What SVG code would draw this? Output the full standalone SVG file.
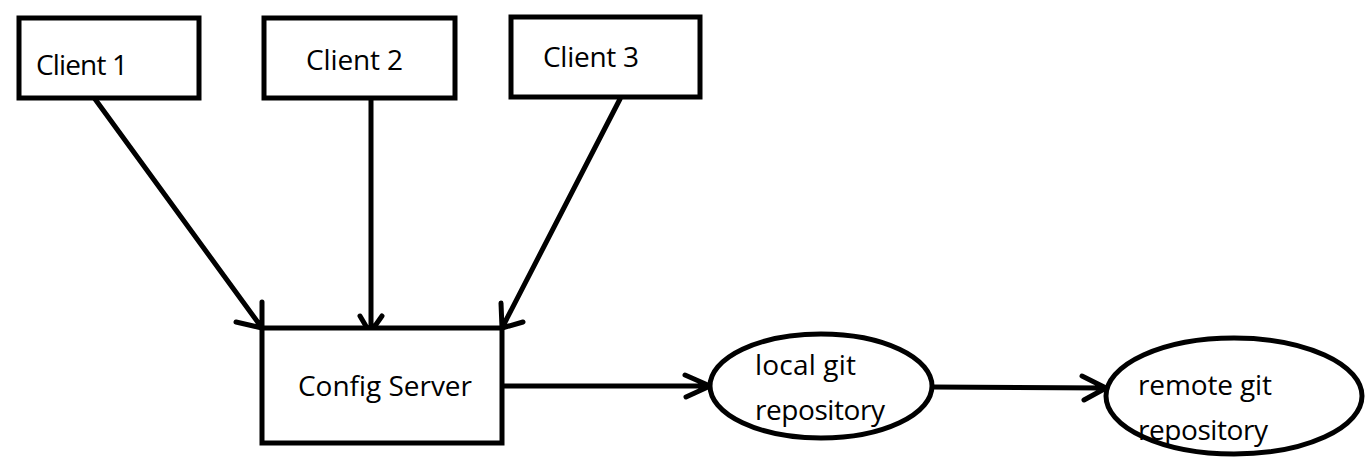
<svg xmlns="http://www.w3.org/2000/svg" width="1370" height="470" viewBox="0 0 1370 470">
<style>
.box{fill:#fff;stroke:#000;stroke-width:5}
.ell{fill:#fff;stroke:#000;stroke-width:5}
.ln{fill:none;stroke:#000;stroke-width:5;stroke-linecap:round;stroke-linejoin:round}
.t{font-family:"Open Sans","Noto Sans",sans-serif;font-size:28px;fill:#000}
</style>
<rect width="1370" height="470" fill="#fff"/>
<g id="connectors">
<path class="ln" d="M95,99 L262,328 M236,322 L262,328 L262,302"/>
<path class="ln" d="M371,99 L371,333 M360,316 L370,333 L382,316"/>
<path class="ln" d="M620,99 L502,328 M501,303 L502,328 L523,322"/>
<path class="ln" d="M504,386 L710,386 M685,375 L710,386 L686,397"/>
<path class="ln" d="M932,387 L1106,388 M1082,376 L1106,388 L1084,400"/>
</g>
<g id="client1"><rect class="box" x="19" y="18" width="180" height="80"/><text class="t" x="36" y="75" textLength="92">Client 1</text></g>
<g id="client2"><rect class="box" x="264" y="18" width="191" height="80"/><text class="t" x="306" y="70" textLength="97">Client 2</text></g>
<g id="client3"><rect class="box" x="511" y="17" width="189" height="80"/><text class="t" x="543" y="67" textLength="96">Client 3</text></g>
<g id="config-server"><rect class="box" x="262" y="328" width="240" height="115"/><text class="t" x="298" y="396" textLength="174">Config Server</text></g>
<g id="local-git"><ellipse class="ell" cx="821" cy="386" rx="111" ry="52"/><text class="t" x="755" y="375" textLength="101">local git</text><text class="t" x="755" y="420" textLength="130">repository</text></g>
<g id="remote-git"><ellipse class="ell" cx="1234" cy="396" rx="128" ry="58"/><text class="t" x="1138" y="395" textLength="134">remote git</text><text class="t" x="1138" y="440" textLength="130">repository</text></g>
</svg>
